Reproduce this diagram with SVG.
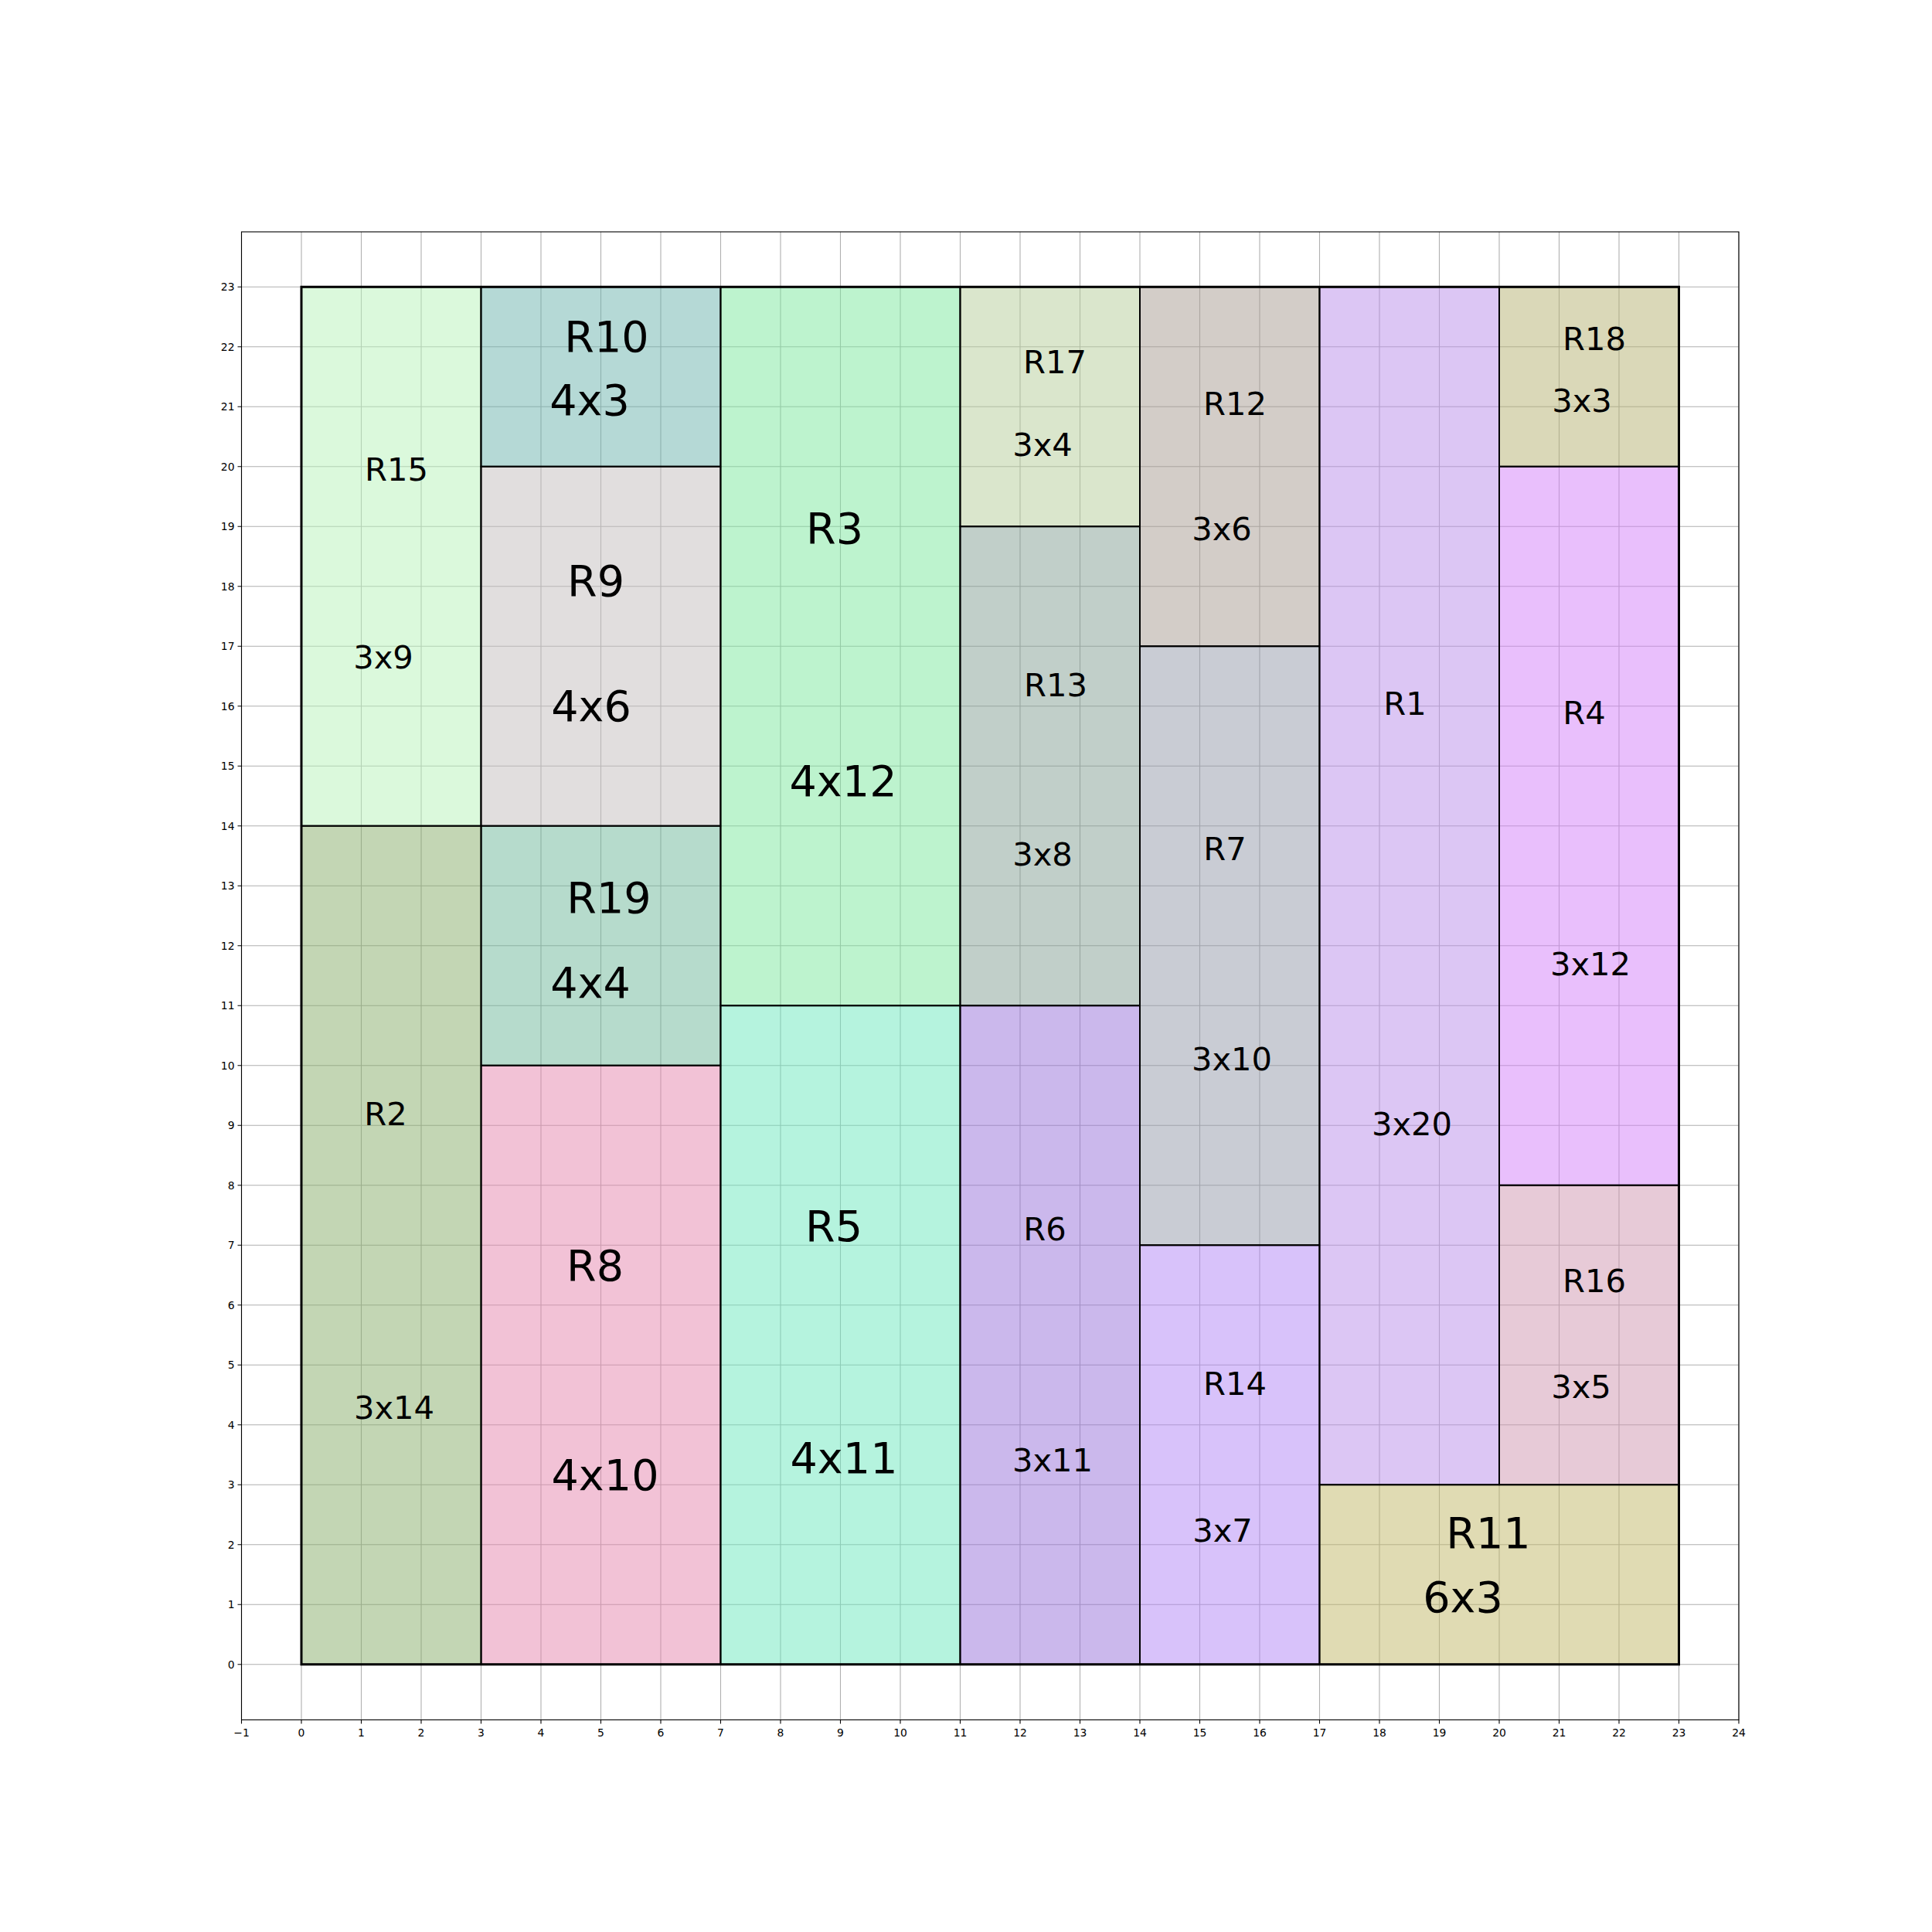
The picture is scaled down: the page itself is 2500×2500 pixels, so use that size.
<svg xmlns="http://www.w3.org/2000/svg" width="2500" height="2500" viewBox="0 0 2500 2500">
<style>
.grid{stroke:#b0b0b0;stroke-width:1.1;fill:none}
.spine{stroke:#000;stroke-width:1.1;fill:none}
.tick{stroke:#000;stroke-width:1.1}
.node rect{fill-opacity:0.5;stroke:#000;stroke-width:2}
.s{font-family:"DejaVu Sans",sans-serif;font-size:41.7px;text-anchor:middle;fill:#000}
.l{font-family:"DejaVu Sans",sans-serif;font-size:55.6px;text-anchor:middle;fill:#000}
.tx{font-family:"DejaVu Sans",sans-serif;font-size:13.9px;text-anchor:middle;fill:#000}
.ty{font-family:"DejaVu Sans",sans-serif;font-size:13.9px;text-anchor:end;fill:#000}
</style>
<rect width="2500" height="2500" fill="#fff"/>
<path class="grid" d="M312.5 300V2225.5M390 300V2225.5M467.5 300V2225.5M545 300V2225.5M622.5 300V2225.5M700 300V2225.5M777.5 300V2225.5M855 300V2225.5M932.5 300V2225.5M1010 300V2225.5M1087.5 300V2225.5M1165 300V2225.5M1242.5 300V2225.5M1320 300V2225.5M1397.5 300V2225.5M1475 300V2225.5M1552.5 300V2225.5M1630 300V2225.5M1707.5 300V2225.5M1785 300V2225.5M1862.5 300V2225.5M1940 300V2225.5M2017.5 300V2225.5M2095 300V2225.5M2172.5 300V2225.5M2250 300V2225.5
M312.5 2153.75H2250M312.5 2076.25H2250M312.5 1998.75H2250M312.5 1921.25H2250M312.5 1843.75H2250M312.5 1766.25H2250M312.5 1688.75H2250M312.5 1611.25H2250M312.5 1533.75H2250M312.5 1456.25H2250M312.5 1378.75H2250M312.5 1301.25H2250M312.5 1223.75H2250M312.5 1146.25H2250M312.5 1068.75H2250M312.5 991.25H2250M312.5 913.75H2250M312.5 836.25H2250M312.5 758.75H2250M312.5 681.25H2250M312.5 603.75H2250M312.5 526.25H2250M312.5 448.75H2250M312.5 371.25H2250"/>

<g id="R15" class="node"><rect x="390" y="371.25" width="232.5" height="697.5" fill="#b7f3b9"/><text class="s" x="513" y="621.5">R15</text><text class="s" x="496" y="865">3x9</text></g>
<g id="R10" class="node"><rect x="622.5" y="371.25" width="310" height="232.5" fill="#6bb3ad"/><text class="l" x="785" y="455">R10</text><text class="l" x="763" y="536.5">4x3</text></g>
<g id="R9" class="node"><rect x="622.5" y="603.75" width="310" height="465" fill="#c3bdbd"/><text class="l" x="771" y="771">R9</text><text class="l" x="765" y="933">4x6</text></g>
<g id="R19" class="node"><rect x="622.5" y="1068.75" width="310" height="310" fill="#6db799"/><text class="l" x="788" y="1181">R19</text><text class="l" x="764" y="1291">4x4</text></g>
<g id="R8" class="node"><rect x="622.5" y="1378.75" width="310" height="775" fill="#e585ad"/><text class="l" x="770" y="1657">R8</text><text class="l" x="783" y="1928">4x10</text></g>
<g id="R2" class="node"><rect x="390" y="1068.75" width="232.5" height="1085" fill="#87ad69"/><text class="s" x="499" y="1456">R2</text><text class="s" x="510" y="1836">3x14</text></g>
<g id="R3" class="node"><rect x="932.5" y="371.25" width="310" height="930" fill="#7be79d"/><text class="l" x="1080" y="703">R3</text><text class="l" x="1091" y="1030">4x12</text></g>
<g id="R5" class="node"><rect x="932.5" y="1301.25" width="310" height="852.5" fill="#6be7bd"/><text class="l" x="1079" y="1606">R5</text><text class="l" x="1092" y="1906">4x11</text></g>
<g id="R17" class="node"><rect x="1242.5" y="371.25" width="232.5" height="310" fill="#b5cd99"/><text class="s" x="1365" y="483">R17</text><text class="s" x="1349" y="590">3x4</text></g>
<g id="R13" class="node"><rect x="1242.5" y="681.25" width="232.5" height="620" fill="#839f93"/><text class="s" x="1366" y="901">R13</text><text class="s" x="1349" y="1120">3x8</text></g>
<g id="R6" class="node"><rect x="1242.5" y="1301.25" width="232.5" height="852.5" fill="#9771d9"/><text class="s" x="1352" y="1605">R6</text><text class="s" x="1362" y="1904">3x11</text></g>
<g id="R12" class="node"><rect x="1475" y="371.25" width="232.5" height="465" fill="#a79b91"/><text class="s" x="1598" y="537">R12</text><text class="s" x="1581" y="699">3x6</text></g>
<g id="R7" class="node"><rect x="1475" y="836.25" width="232.5" height="775" fill="#9399a9"/><text class="s" x="1585" y="1113">R7</text><text class="s" x="1594" y="1385">3x10</text></g>
<g id="R14" class="node"><rect x="1475" y="1611.25" width="232.5" height="542.5" fill="#b185f5"/><text class="s" x="1598" y="1805">R14</text><text class="s" x="1582" y="1995">3x7</text></g>
<g id="R1" class="node"><rect x="1707.5" y="371.25" width="232.5" height="1550" fill="#b98de9"/><text class="s" x="1818" y="925">R1</text><text class="s" x="1827" y="1469">3x20</text></g>
<g id="R18" class="node"><rect x="1940" y="371.25" width="232.5" height="232.5" fill="#b5b171"/><text class="s" x="2063" y="453">R18</text><text class="s" x="2047" y="533">3x3</text></g>
<g id="R4" class="node"><rect x="1940" y="603.75" width="232.5" height="930" fill="#d37ff9"/><text class="s" x="2050" y="937">R4</text><text class="s" x="2058" y="1262">3x12</text></g>
<g id="R16" class="node"><rect x="1940" y="1533.75" width="232.5" height="387.5" fill="#cf95af"/><text class="s" x="2063" y="1672">R16</text><text class="s" x="2046" y="1809">3x5</text></g>
<g id="R11" class="node"><rect x="1707.5" y="1921.25" width="465" height="232.5" fill="#c1b767"/><text class="l" x="1926" y="2003">R11</text><text class="l" x="1893" y="2086">6x3</text></g>

<g id="frame">
<rect x="390" y="371.25" width="1782.5" height="1782.5" fill="none" stroke="#000" stroke-width="3"/>
<rect class="spine" x="312.5" y="300" width="1937.5" height="1925.5"/>
</g>
<g id="ticks">
<path class="tick" d="M312.5 2225.5v5M390 2225.5v5M467.5 2225.5v5M545 2225.5v5M622.5 2225.5v5M700 2225.5v5M777.5 2225.5v5M855 2225.5v5M932.5 2225.5v5M1010 2225.5v5M1087.5 2225.5v5M1165 2225.5v5M1242.5 2225.5v5M1320 2225.5v5M1397.5 2225.5v5M1475 2225.5v5M1552.5 2225.5v5M1630 2225.5v5M1707.5 2225.5v5M1785 2225.5v5M1862.5 2225.5v5M1940 2225.5v5M2017.5 2225.5v5M2095 2225.5v5M2172.5 2225.5v5M2250 2225.5v5
M312.5 2153.75h-5M312.5 2076.25h-5M312.5 1998.75h-5M312.5 1921.25h-5M312.5 1843.75h-5M312.5 1766.25h-5M312.5 1688.75h-5M312.5 1611.25h-5M312.5 1533.75h-5M312.5 1456.25h-5M312.5 1378.75h-5M312.5 1301.25h-5M312.5 1223.75h-5M312.5 1146.25h-5M312.5 1068.75h-5M312.5 991.25h-5M312.5 913.75h-5M312.5 836.25h-5M312.5 758.75h-5M312.5 681.25h-5M312.5 603.75h-5M312.5 526.25h-5M312.5 448.75h-5M312.5 371.25h-5"/>
<text class="tx" x="312.5" y="2246.5">−1</text><text class="tx" x="390" y="2246.5">0</text><text class="tx" x="467.5" y="2246.5">1</text><text class="tx" x="545" y="2246.5">2</text><text class="tx" x="622.5" y="2246.5">3</text><text class="tx" x="700" y="2246.5">4</text><text class="tx" x="777.5" y="2246.5">5</text><text class="tx" x="855" y="2246.5">6</text><text class="tx" x="932.5" y="2246.5">7</text><text class="tx" x="1010" y="2246.5">8</text><text class="tx" x="1087.5" y="2246.5">9</text><text class="tx" x="1165" y="2246.5">10</text><text class="tx" x="1242.5" y="2246.5">11</text><text class="tx" x="1320" y="2246.5">12</text><text class="tx" x="1397.5" y="2246.5">13</text><text class="tx" x="1475" y="2246.5">14</text><text class="tx" x="1552.5" y="2246.5">15</text><text class="tx" x="1630" y="2246.5">16</text><text class="tx" x="1707.5" y="2246.5">17</text><text class="tx" x="1785" y="2246.5">18</text><text class="tx" x="1862.5" y="2246.5">19</text><text class="tx" x="1940" y="2246.5">20</text><text class="tx" x="2017.5" y="2246.5">21</text><text class="tx" x="2095" y="2246.5">22</text><text class="tx" x="2172.5" y="2246.5">23</text><text class="tx" x="2250" y="2246.5">24</text>
<text class="ty" x="303.5" y="2158.75">0</text><text class="ty" x="303.5" y="2081.25">1</text><text class="ty" x="303.5" y="2003.75">2</text><text class="ty" x="303.5" y="1926.25">3</text><text class="ty" x="303.5" y="1848.75">4</text><text class="ty" x="303.5" y="1771.25">5</text><text class="ty" x="303.5" y="1693.75">6</text><text class="ty" x="303.5" y="1616.25">7</text><text class="ty" x="303.5" y="1538.75">8</text><text class="ty" x="303.5" y="1461.25">9</text><text class="ty" x="303.5" y="1383.75">10</text><text class="ty" x="303.5" y="1306.25">11</text><text class="ty" x="303.5" y="1228.75">12</text><text class="ty" x="303.5" y="1151.25">13</text><text class="ty" x="303.5" y="1073.75">14</text><text class="ty" x="303.5" y="996.25">15</text><text class="ty" x="303.5" y="918.75">16</text><text class="ty" x="303.5" y="841.25">17</text><text class="ty" x="303.5" y="763.75">18</text><text class="ty" x="303.5" y="686.25">19</text><text class="ty" x="303.5" y="608.75">20</text><text class="ty" x="303.5" y="531.25">21</text><text class="ty" x="303.5" y="453.75">22</text><text class="ty" x="303.5" y="376.25">23</text>
</g>
</svg>
